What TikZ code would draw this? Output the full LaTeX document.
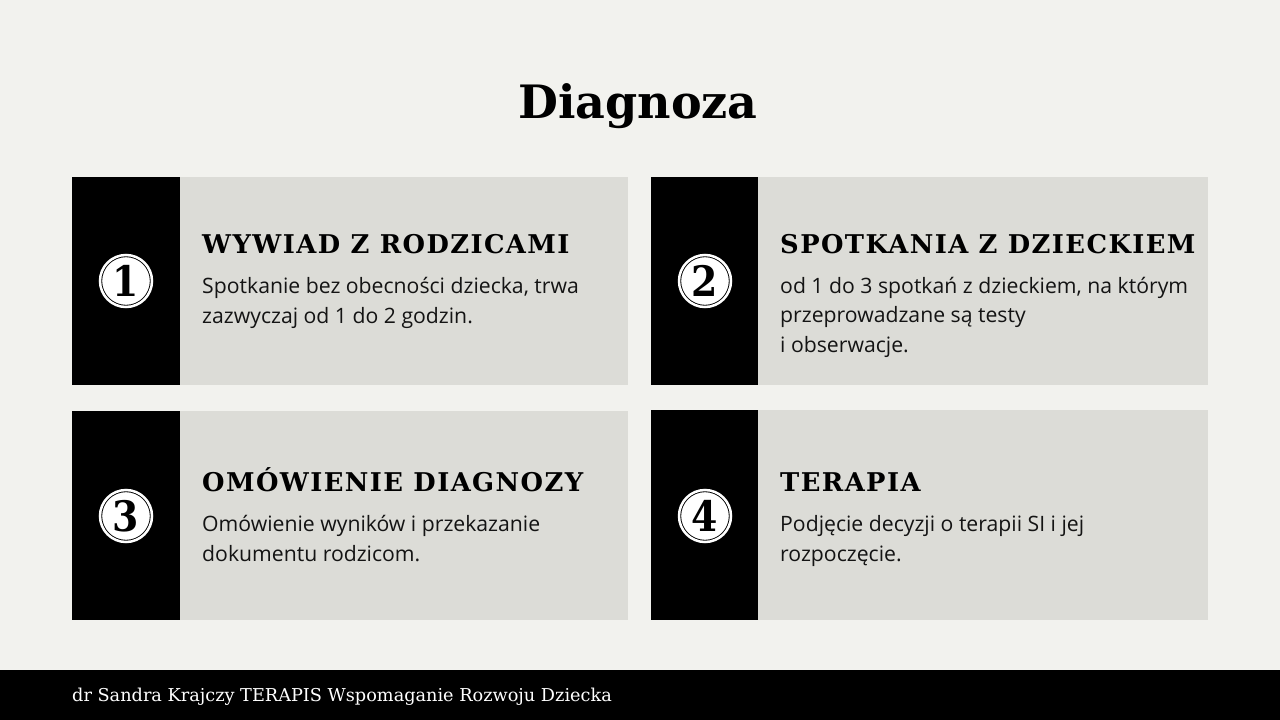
\documentclass[tikz,border=0pt]{standalone}
\usepackage{fontspec}
\setmainfont{Open Sans}
\newfontfamily\slabfont{DejaVu Serif}[BoldFont={DejaVu Serif Bold}]
\newfontfamily\slabhead{DejaVu Serif Bold}[LetterSpace=5.5]
\newfontfamily\slabnum{DejaVu Serif Condensed Bold}
\definecolor{bgcol}{RGB}{242,242,238}
\definecolor{boxcol}{RGB}{220,220,215}
\definecolor{txtcol}{RGB}{20,20,20}
\begin{document}
\begin{tikzpicture}[x=1pt,y=-1pt,
  panel/.style={fill=boxcol,draw=none},
  strip/.style={fill=black,draw=none},
  numcirc/.style={circle,fill=white,draw=black,line width=0.9pt,minimum size=52pt,inner sep=0pt,
     double=white,double distance=2.5pt,font=\slabnum\fontsize{42}{42}\selectfont},
  heading/.style={anchor=base west,inner sep=0pt,font=\slabhead\fontsize{25.8}{25.8}\selectfont,text=black},
  bodytxt/.style={anchor=base west,inner sep=0pt,font=\fontsize{21.2}{21.2}\selectfont,text=txtcol},
]
\fill[bgcol] (0,0) rectangle (1280,720);
\useasboundingbox (0,0) rectangle (1280,720);
% title
\node[anchor=base,inner sep=0pt,font=\slabfont\bfseries\fontsize{46}{46}\selectfont] (title) at (638,118) {Diagnoza};
% panels
\fill[panel] (72,177) rectangle (628,385);
\fill[strip] (72,177) rectangle (180,385);
\fill[panel] (651,177) rectangle (1208,385);
\fill[strip] (651,177) rectangle (758,385);
\fill[panel] (72,411) rectangle (628,620);
\fill[strip] (72,411) rectangle (180,620);
\fill[panel] (651,410) rectangle (1208,620);
\fill[strip] (651,410) rectangle (758,620);
% numbers
\node[numcirc] (n1) at (126,281) {1};
\node[numcirc] (n2) at (705,281) {2};
\node[numcirc] (n3) at (126,516) {3};
\node[numcirc] (n4) at (705,516) {4};
% box 1
\node[heading] (h1) at (202,253) {WYWIAD Z RODZICAMI};
\node[bodytxt] (b1a) at (202,293) {Spotkanie bez obecności dziecka, trwa};
\node[bodytxt] (b1b) at (202,323) {zazwyczaj od 1 do 2 godzin.};
% box 2
\node[heading] (h2) at (780,253) {SPOTKANIA Z DZIECKIEM};
\node[bodytxt] (b2a) at (780,293) {od 1 do 3 spotkań z dzieckiem, na którym};
\node[bodytxt] (b2b) at (780,322) {przeprowadzane są testy};
\node[bodytxt] (b2c) at (780,352) {i obserwacje.};
% box 3
\node[heading] (h3) at (202,491) {OMÓWIENIE DIAGNOZY};
\node[bodytxt] (b3a) at (202,531) {Omówienie wyników i przekazanie};
\node[bodytxt] (b3b) at (202,561) {dokumentu rodzicom.};
% box 4
\node[heading] (h4) at (780,491) {TERAPIA};
\node[bodytxt] (b4a) at (780,531) {Podjęcie decyzji o terapii SI i jej};
\node[bodytxt] (b4b) at (780,561) {rozpoczęcie.};
% footer
\fill[black] (0,670) rectangle (1280,720);
\node[anchor=base west,inner sep=0pt,text=white,font=\slabfont\fontsize{17.7}{17.7}\selectfont] (foot) at (72,701) {dr Sandra Krajczy TERAPIS Wspomaganie Rozwoju Dziecka};
\end{tikzpicture}
\end{document}
